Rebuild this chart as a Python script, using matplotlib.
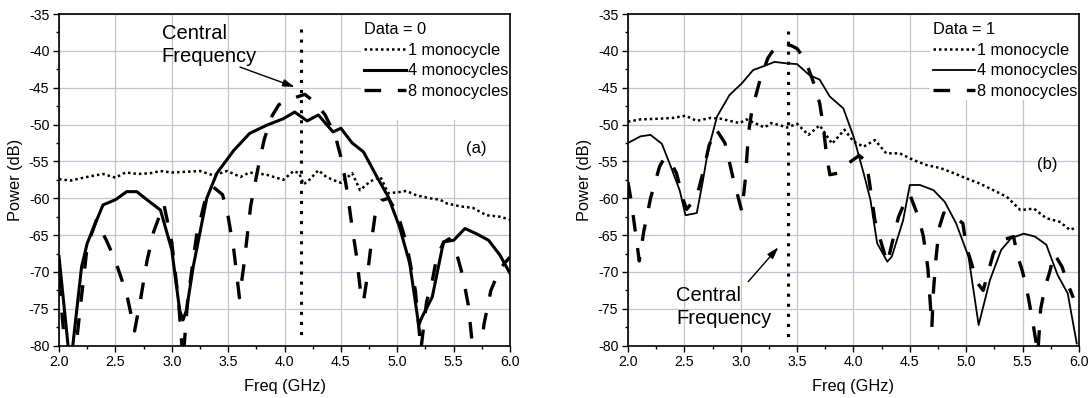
import matplotlib
matplotlib.use("Agg")
import matplotlib.pyplot as plt
from matplotlib.patches import Rectangle
from matplotlib.ticker import MultipleLocator, FormatStrFormatter

plt.rcParams['font.family'] = ['Liberation Sans', 'DejaVu Sans']

# ---------------- data: panel (a), Data = 0 ----------------
a_one_x = [2.00, 2.10, 2.25, 2.39, 2.50, 2.59, 2.70, 2.81, 2.90, 3.00, 3.13, 3.25, 3.37, 3.49,
           3.61, 3.69, 3.84, 3.99, 4.08, 4.13, 4.17, 4.22, 4.30, 4.37, 4.43, 4.50, 4.60, 4.67,
           4.76, 4.85, 4.92, 5.00, 5.08, 5.17, 5.29, 5.38, 5.44, 5.56, 5.67, 5.79, 5.91, 6.00]
a_one_y = [-57.4, -57.6, -57.1, -56.7, -57.2, -56.5, -56.7, -56.6, -56.3, -56.5, -56.4, -56.3, -56.9, -56.3,
           -57.1, -56.5, -56.8, -57.5, -56.3, -56.6, -58.1, -57.5, -56.2, -57.1, -57.5, -57.9, -56.6, -58.9,
           -57.7, -57.1, -59.3, -59.2, -59.0, -59.6, -60.0, -60.2, -60.7, -61.1, -61.3, -62.3, -62.5, -62.9]

a_four_x = [2.00, 2.10, 2.20, 2.25, 2.39, 2.50, 2.60, 2.69, 2.78, 2.90, 3.00, 3.07, 3.10, 3.13, 3.19,
            3.31, 3.40, 3.55, 3.69, 3.84, 3.99, 4.09, 4.20, 4.30, 4.43, 4.50, 4.60, 4.70, 4.82, 4.92,
            5.02, 5.11, 5.19, 5.22, 5.31, 5.41, 5.50, 5.60, 5.70, 5.81, 5.91, 6.00]
a_four_y = [-67.9, -83.0, -69.3, -66.1, -60.9, -60.2, -59.1, -59.1, -60.2, -61.6, -67.0, -75.2, -76.5, -75.2, -69.3,
            -60.0, -56.6, -53.5, -51.2, -50.1, -49.2, -48.3, -49.5, -48.7, -51.0, -50.5, -52.5, -53.7, -57.1, -59.8,
            -63.9, -68.8, -77.2, -76.1, -73.4, -65.9, -65.7, -64.1, -64.8, -65.7, -67.7, -70.2]

a_eight_x = [2.00, 2.04, 2.11, 2.18, 2.25, 2.33, 2.42, 2.50, 2.60, 2.67, 2.72, 2.78, 2.84, 2.93,
             3.00, 3.06, 3.10, 3.14, 3.22, 3.30, 3.37, 3.45, 3.50, 3.55, 3.60, 3.64, 3.70, 3.77,
             3.82, 3.89, 3.95, 4.03, 4.10, 4.18, 4.28, 4.36, 4.45, 4.51, 4.56, 4.60, 4.64, 4.68,
             4.70, 4.73, 4.77, 4.81, 4.86, 4.92, 5.00, 5.08, 5.16, 5.21, 5.26, 5.30, 5.35, 5.41,
             5.46, 5.51, 5.58, 5.63, 5.67, 5.71, 5.77, 5.83, 5.90, 5.95, 6.00]
a_eight_y = [-71.0, -78.0, -86.0, -76.0, -66.5, -63.0, -65.7, -68.5, -73.0, -78.0, -74.0, -68.5, -64.5, -60.8,
             -66.0, -74.0, -82.0, -74.0, -65.0, -60.0, -58.5, -59.5, -62.5, -67.0, -73.5, -69.0, -61.0, -55.5,
             -52.0, -48.8, -47.3, -46.7, -46.3, -45.9, -47.1, -48.7, -51.5, -55.0, -59.5, -64.0, -68.0, -73.5,
             -74.0, -71.0, -66.0, -61.5, -60.3, -60.0, -62.0, -66.0, -72.5, -80.5, -74.0, -72.0, -68.0, -66.0,
             -65.5, -66.6, -70.5, -74.5, -80.5, -84.0, -77.0, -72.5, -70.0, -68.8, -68.0]

# ---------------- data: panel (b), Data = 1 ----------------
b_one_x = [2.00, 2.11, 2.28, 2.40, 2.51, 2.61, 2.73, 2.82, 2.99, 3.05, 3.17, 3.21, 3.27, 3.35, 3.41,
           3.50, 3.60, 3.70, 3.81, 3.92, 4.00, 4.09, 4.19, 4.29, 4.41, 4.53, 4.65, 4.77, 4.89, 5.00,
           5.12, 5.24, 5.36, 5.48, 5.60, 5.71, 5.83, 5.92, 5.98]
b_one_y = [-49.6, -49.3, -49.2, -49.1, -48.8, -49.5, -49.1, -49.2, -49.8, -49.3, -50.1, -50.4, -49.8, -50.1, -50.4,
           -49.9, -51.4, -50.1, -52.6, -50.7, -52.3, -53.0, -52.1, -53.9, -53.9, -54.8, -55.5, -55.9, -56.6, -57.3,
           -58.0, -58.9, -59.8, -61.6, -61.4, -62.7, -63.2, -64.3, -63.9]

b_four_x = [2.00, 2.11, 2.20, 2.30, 2.38, 2.46, 2.51, 2.61, 2.66, 2.71, 2.79, 2.90, 3.01, 3.11, 3.20,
            3.30, 3.41, 3.50, 3.61, 3.70, 3.79, 3.91, 4.00, 4.09, 4.15, 4.21, 4.30, 4.34, 4.44, 4.50,
            4.59, 4.71, 4.81, 4.91, 5.02, 5.11, 5.21, 5.31, 5.40, 5.51, 5.61, 5.71, 5.81, 5.90, 5.98]
b_four_y = [-52.5, -51.6, -51.4, -52.6, -55.7, -59.0, -62.3, -62.0, -58.0, -53.5, -48.9, -46.0, -44.4, -42.6, -42.1,
            -41.5, -41.7, -41.8, -43.3, -43.9, -46.2, -47.8, -51.6, -56.6, -60.2, -66.1, -68.6, -67.9, -63.0, -58.2,
            -58.2, -58.9, -60.5, -63.4, -67.9, -77.2, -71.1, -67.0, -65.4, -64.8, -65.2, -66.3, -70.4, -72.9, -79.7]

b_eight_x = [2.00, 2.03, 2.10, 2.14, 2.20, 2.28, 2.32, 2.37, 2.43, 2.49, 2.52, 2.61, 2.67, 2.72, 2.78,
             2.86, 2.93, 3.01, 3.04, 3.07, 3.10, 3.17, 3.24, 3.28, 3.37, 3.45, 3.50, 3.57, 3.61, 3.66,
             3.70, 3.73, 3.76, 3.79, 3.86, 3.95, 4.05, 4.10, 4.13, 4.19, 4.22, 4.30, 4.37, 4.40, 4.47,
             4.50, 4.58, 4.62, 4.66, 4.68, 4.695, 4.71, 4.73, 4.76, 4.80, 4.88, 4.97, 5.00, 5.10, 5.15,
             5.24, 5.31, 5.42, 5.45, 5.50, 5.55, 5.59, 5.635, 5.66, 5.70, 5.74, 5.78, 5.85, 5.91, 5.95]
b_eight_y = [-57.8, -60.5, -68.5, -64.5, -60.0, -55.7, -54.6, -54.8, -56.6, -60.2, -61.5, -59.8, -56.2, -52.8, -50.6,
             -52.5, -57.1, -61.8, -57.5, -51.0, -48.0, -44.0, -41.0, -40.1, -39.0, -39.3, -39.7, -41.2, -42.8, -44.9,
             -47.1, -50.0, -54.0, -56.8, -56.6, -55.3, -54.2, -54.8, -56.6, -63.0, -64.7, -68.8, -64.3, -62.5, -60.0,
             -59.5, -62.7, -65.2, -69.5, -74.0, -77.5, -72.4, -68.4, -64.0, -62.0, -62.3, -63.4, -66.5, -71.5, -72.5,
             -67.5, -65.7, -65.2, -67.5, -70.0, -73.4, -76.8, -81.0, -75.0, -72.0, -70.0, -67.5, -69.3, -72.0, -73.5]

labels = ["1 monocycle", "4 monocycles", "8 monocycles"]
central_freq = [4.15, 3.42]
panel_tags = ["(a)", "(b)"]
titles = ["Data = 0", "Data = 1"]

# ---------------- figure ----------------
fig = plt.figure(figsize=(10.91, 3.98), dpi=100)
ax1 = fig.add_axes([0.0541, 0.1314, 0.4134, 0.8334])
ax2 = fig.add_axes([0.5756, 0.1314, 0.4134, 0.8334])

grid_color = '#c3c3d0'
dot_style = (0, (1, 1.2))
dash_style = (0, (5, 5))

def style_axes(ax):
    ax.set_xlim(2.0, 6.0)
    ax.set_ylim(-80, -35)
    ax.xaxis.set_major_locator(MultipleLocator(0.5))
    ax.xaxis.set_minor_locator(MultipleLocator(0.25))
    ax.yaxis.set_major_locator(MultipleLocator(5))
    ax.yaxis.set_minor_locator(MultipleLocator(2.5))
    ax.xaxis.set_major_formatter(FormatStrFormatter('%.1f'))
    ax.yaxis.set_major_formatter(FormatStrFormatter('%d'))
    ax.tick_params(which='both', direction='out', top=False, right=False, labelsize=10.2,
                   width=1.0, colors='black')
    ax.tick_params(which='major', length=4, pad=3)
    ax.tick_params(which='minor', length=2.5)
    ax.grid(True, which='major', color=grid_color, lw=0.9)
    for s in ax.spines.values():
        s.set_linewidth(1.2)
    ax.set_xlabel('Freq (GHz)', fontsize=11.8, labelpad=7)
    ax.set_ylabel('Power (dB)', fontsize=11.8, labelpad=4)

for ax in (ax1, ax2):
    style_axes(ax)

# panel (a)
ax1.plot(a_one_x, a_one_y, color='black', lw=1.8, linestyle=dot_style, label=labels[0], zorder=3)
ax1.plot(a_four_x, a_four_y, color='black', lw=2.2, linestyle='-', label=labels[1], zorder=3)
ax1.plot(a_eight_x, a_eight_y, color='black', lw=2.4, linestyle=dash_style, label=labels[2], zorder=3)
ax1.plot([central_freq[0], central_freq[0]], [-37.0, -79.3], color='black', lw=2.2,
         linestyle=(0, (1, 2.3)), zorder=3)

# panel (b)
ax2.plot(b_one_x, b_one_y, color='black', lw=1.8, linestyle=dot_style, label=labels[0], zorder=3)
ax2.plot(b_four_x, b_four_y, color='black', lw=1.3, linestyle='-', label=labels[1], zorder=3)
ax2.plot(b_eight_x, b_eight_y, color='black', lw=2.4, linestyle=dash_style, label=labels[2], zorder=3)
ax2.plot([central_freq[1], central_freq[1]], [-37.3, -79.5], color='black', lw=2.2,
         linestyle=(0, (1, 2.3)), zorder=3)

# white legend backgrounds hiding the grid
ax1.add_patch(Rectangle((0.670, 0.680), 0.330, 0.320, transform=ax1.transAxes,
                        facecolor='white', edgecolor='none', zorder=1.7))
ax2.add_patch(Rectangle((0.670, 0.741), 0.330, 0.259, transform=ax2.transAxes,
                        facecolor='white', edgecolor='none', zorder=1.7))

for ax, title in ((ax1, titles[0]), (ax2, titles[1])):
    leg = ax.legend(loc='upper left', bbox_to_anchor=(0.659, 1.0), frameon=False,
                    title=title, alignment='left', fontsize=11.8, title_fontsize=11.8,
                    handlelength=2.55, handletextpad=0.12, labelspacing=0.34,
                    borderpad=0.5, borderaxespad=0.0)
    leg.set_zorder(5)

# annotations
ax1.text(2.91, -36.3, 'Central\nFrequency', ha='left', va='top', fontsize=14.5, linespacing=1.32)
ax1.annotate('', xy=(4.09, -44.9), xytext=(3.605, -42.2),
             arrowprops=dict(arrowstyle='-|>,head_length=0.7,head_width=0.22', lw=1.0,
                             color='black', shrinkA=0, shrinkB=0))
ax2.text(2.43, -71.9, 'Central\nFrequency', ha='left', va='top', fontsize=14.5, linespacing=1.3)
ax2.annotate('', xy=(3.333, -66.65), xytext=(3.067, -71.3),
             arrowprops=dict(arrowstyle='-|>,head_length=0.7,head_width=0.22', lw=1.0,
                             color='black', shrinkA=0, shrinkB=0))

ax1.text(5.70, -53.2, panel_tags[0], ha='center', va='center', fontsize=12)
ax2.text(5.716, -55.35, panel_tags[1], ha='center', va='center', fontsize=12)

fig.savefig('out.png', dpi=100)
